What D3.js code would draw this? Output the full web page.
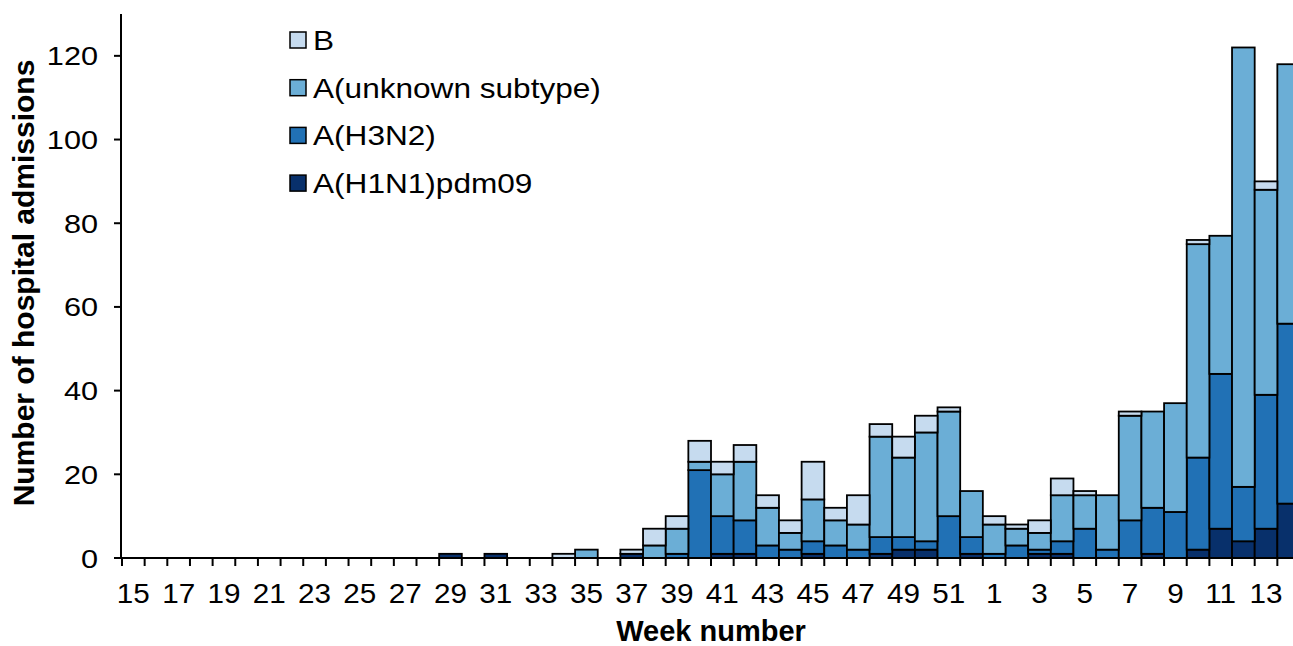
<!DOCTYPE html>
<html><head><meta charset="utf-8">
<script src="https://cdn.jsdelivr.net/npm/d3@7"></script>
<style>body{margin:0;background:#fff}svg{display:block;font-family:"Liberation Sans",Arial,sans-serif}</style>
</head><body><svg id="c" width="1293" height="646"></svg>
<script>
// ---- data ----
const weeks = [15,16,17,18,19,20,21,22,23,24,25,26,27,28,29,30,31,32,33,34,35,36,37,38,39,40,41,42,43,44,45,46,47,48,49,50,51,52,1,2,3,4,5,6,7,8,9,10,11,12,13,14];
const h1n1     = [0,0,0,0,0,0,0,0,0,0,0,0,0,0,1,0,1,0,0,0,0,0,1,0,0,0,1,1,0,0,1,0,0,1,2,2,0,1,0,0,1,1,0,0,0,1,0,2,7,4,7,13];
const h3n2     = [0,0,0,0,0,0,0,0,0,0,0,0,0,0,0,0,0,0,0,0,0,0,0,0,1,21,9,8,3,2,3,3,2,4,3,2,10,4,1,3,1,3,7,2,9,11,11,22,37,13,32,43];
const aUnknown = [0,0,0,0,0,0,0,0,0,0,0,0,0,0,0,0,0,0,0,0,2,0,0,3,6,2,10,14,9,4,10,6,6,24,19,26,25,11,7,4,4,11,8,13,25,23,26,51,33,105,49,62];
const bType    = [0,0,0,0,0,0,0,0,0,0,0,0,0,0,0,0,0,0,0,1,0,0,1,4,3,5,3,4,3,3,9,3,7,3,5,4,1,0,2,1,3,4,1,0,1,0,0,1,0,0,2,0];
const seriesKeys   = ["h1n1","h3n2","aUnknown","bType"];
const seriesNames  = ["A(H1N1)pdm09","A(H3N2)","A(unknown subtype)","B"];
const seriesColors = ["#08306b","#2171b5","#6baed6","#c6dbef"];
const yTicks = [0,20,40,60,80,100,120];
const yMax = 130;
const xTitle = "Week number";
const yTitle = "Number of hospital admissions";

// ---- layout ----
const svg = d3.select("#c");
const mLeft = 122, mRight = 1300, mBottom = 558, mTop = 14;
const x = d3.scaleBand().domain(weeks.map(String)).range([mLeft, mRight]).padding(0);
const y = d3.scaleLinear().domain([0, yMax]).range([mBottom, mTop]);

const rows = weeks.map((w, i) => ({week: String(w), h1n1: h1n1[i], h3n2: h3n2[i], aUnknown: aUnknown[i], bType: bType[i]}));
const stacked = d3.stack().keys(seriesKeys)(rows);

svg.append("g").selectAll("g").data(stacked).join("g")
  .attr("fill", (d, i) => seriesColors[i])
  .selectAll("rect").data(d => d.filter(s => s[1] - s[0] > 0)).join("rect")
  .attr("x", d => x(d.data.week))
  .attr("width", x.bandwidth())
  .attr("y", d => y(d[1]))
  .attr("height", d => y(d[0]) - y(d[1]))
  .attr("stroke", "#000").attr("stroke-width", 1.8);

// ---- axes ----
const ax = svg.append("g").attr("stroke", "#000").attr("stroke-width", 2);
ax.append("line").attr("x1", mLeft).attr("x2", 1293).attr("y1", mBottom).attr("y2", mBottom);
ax.append("line").attr("x1", mLeft - 1).attr("x2", mLeft - 1).attr("y1", mTop).attr("y2", mBottom);
// band-boundary ticks
ax.selectAll("line.xt").data(weeks).join("line").attr("class", "xt")
  .attr("x1", d => x(String(d))).attr("x2", d => x(String(d)))
  .attr("y1", mBottom).attr("y2", mBottom + 8);
// y ticks
ax.selectAll("line.yt").data(yTicks).join("line").attr("class", "yt")
  .attr("x1", mLeft - 8).attr("x2", mLeft - 1)
  .attr("y1", d => y(d)).attr("y2", d => y(d));

// x tick labels (every second week)
svg.append("g").selectAll("text").data(weeks.filter((w, i) => i % 2 === 0)).join("text")
  .attr("transform", d => `translate(${x(String(d)) + x.bandwidth() / 2},603) scale(1.06,1)`)
  .attr("text-anchor", "middle").attr("font-size", 28).attr("fill", "#000")
  .text(d => d);

// y tick labels
svg.append("g").selectAll("text").data(yTicks).join("text")
  .attr("transform", d => `translate(98,${y(d) + 9.5}) scale(1.18,1)`)
  .attr("text-anchor", "end").attr("font-size", 26).attr("fill", "#000")
  .text(d => d);

// titles
svg.append("text").attr("x", 711).attr("y", 641).attr("text-anchor", "middle")
  .attr("font-size", 29).attr("font-weight", "bold").text(xTitle);
svg.append("text").attr("transform", "translate(34,283) rotate(-90)").attr("text-anchor", "middle")
  .attr("font-size", 30).attr("font-weight", "bold").text(yTitle);

// ---- legend ----
const legendOrder = [3, 2, 1, 0];
const lg = svg.append("g").selectAll("g").data(legendOrder).join("g")
  .attr("transform", (d, i) => `translate(290,${40 + i * 47.7})`);
lg.append("rect").attr("x", 0).attr("y", -8).attr("width", 16).attr("height", 16)
  .attr("fill", d => seriesColors[d]).attr("stroke", "#000").attr("stroke-width", 1.5);
lg.append("text").attr("transform", "translate(23,10) scale(1.17,1)")
  .attr("font-size", 27).attr("fill", "#000").text(d => seriesNames[d]);
</script></body></html>
